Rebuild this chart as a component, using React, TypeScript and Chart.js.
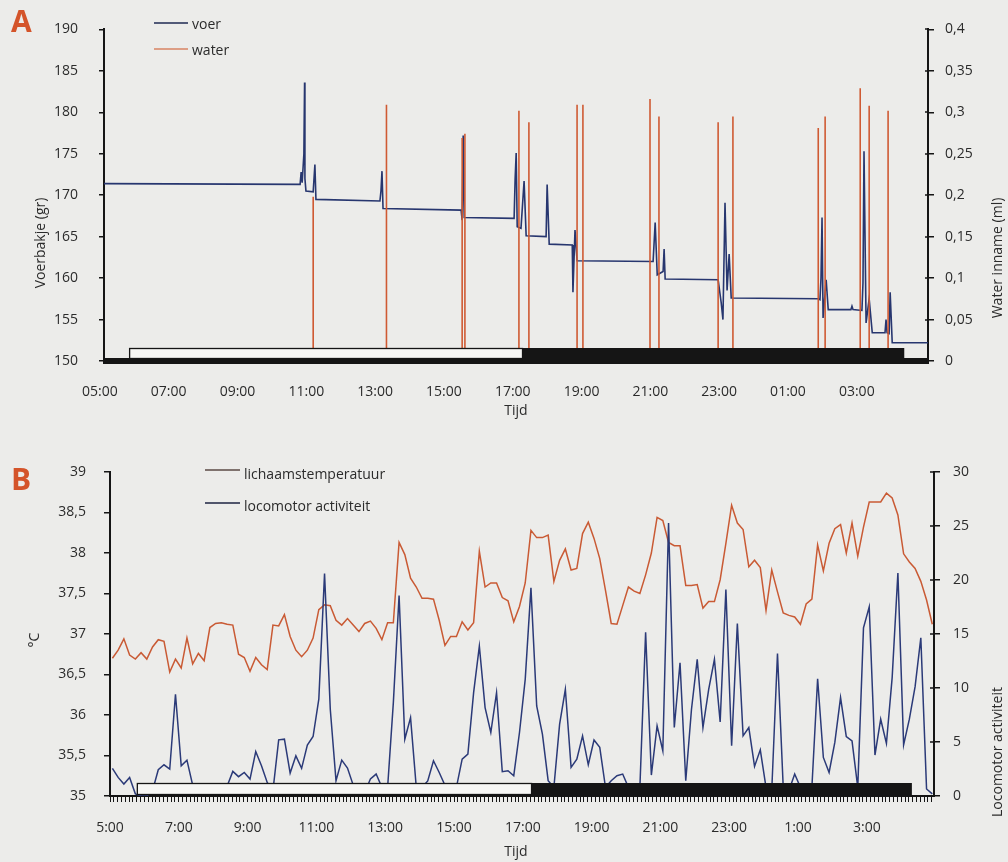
import React, { useEffect, useRef } from 'react';
import { Chart, registerables } from 'chart.js';

Chart.register(...registerables);

const FONT = '"Open Sans", "DejaVu Sans", sans-serif';
const TEXT = '#2b2b2b';
const AXIS = '#151515';
const BG = '#ececea';
const VOER = '#27366f';
const WATER = '#cf5a33';
const TEMP = '#c95a34';
const ACT = '#2b3a78';
const LETTER = '#d4542a';

// ---------------- Panel A data ----------------
const voerTimes = [5.12, 10.82, 10.85, 10.88, 10.93, 10.95, 10.96, 10.99, 11.2, 11.25,
  11.28, 13.14, 13.17, 13.2, 13.23, 15.5, 15.53, 15.56, 15.59, 17.04,
  17.07, 17.1, 17.13, 17.24, 17.33, 17.39, 17.97, 18.0, 18.06, 18.73,
  18.75, 18.81, 18.87, 21.08, 21.14, 21.2, 21.37, 21.4, 21.43, 22.97,
  23.06, 23.11, 23.17, 23.23, 23.29, 23.35, 25.88, 25.93, 25.96, 25.99,
  26.02, 26.11, 26.17, 26.83, 26.86, 26.89, 27.15, 27.18, 27.21, 27.27,
  27.36, 27.45, 27.82, 27.85, 27.88, 27.94, 27.97, 28.03, 29.07];
const voerValues = [171.4, 171.3, 172.8, 171.5, 175.0, 183.6, 172.0, 170.5, 170.4, 173.7,
  169.5, 169.3, 170.5, 172.9, 168.4, 168.2, 167.0, 177.2, 167.3, 167.2,
  172.0, 175.1, 166.2, 166.0, 171.7, 165.1, 165.0, 171.3, 164.1, 164.0,
  158.3, 165.8, 162.1, 162.0, 166.7, 160.4, 160.8, 163.5, 159.9, 159.8,
  157.0, 155.0, 169.1, 158.5, 162.9, 157.6, 157.5, 157.4, 160.0, 167.3,
  155.2, 159.8, 156.2, 156.2, 156.6, 156.2, 156.1, 159.4, 175.3, 154.6,
  157.5, 153.4, 153.4, 155.0, 153.4, 153.3, 158.3, 152.2, 152.2];
const waterTimes = [11.2, 13.33, 15.53, 15.61, 17.18, 17.47, 18.87, 19.04, 20.99, 21.25,
  22.97, 23.4, 25.88, 26.08, 27.1, 27.36, 27.91];
const waterPeaks = [0.198, 0.309, 0.269, 0.274, 0.302, 0.288, 0.309, 0.309, 0.316, 0.295,
  0.288, 0.295, 0.281, 0.295, 0.329, 0.308, 0.302];
const axisAHours = [5, 7, 9, 11, 13, 15, 17, 19, 21, 23, 25, 27];
const lightA = [5.85, 17.27];
const darkA = [17.27, 28.38];

// ---------------- Panel B data ----------------
const sampleStartHour = 5.07;
const sampleStepMinutes = 10;
const tempValues = [36.70, 36.80, 36.94, 36.74, 36.69, 36.77, 36.69, 36.84, 36.93, 36.91,
  36.53, 36.69, 36.58, 36.95, 36.63, 36.76, 36.67, 37.08, 37.13, 37.14,
  37.12, 37.11, 36.75, 36.71, 36.54, 36.71, 36.62, 36.56, 37.11, 37.10,
  37.24, 36.97, 36.80, 36.72, 36.80, 36.95, 37.30, 37.36, 37.35, 37.17,
  37.11, 37.19, 37.11, 37.03, 37.13, 37.16, 37.07, 36.93, 37.14, 37.14,
  38.13, 37.98, 37.69, 37.58,
  37.44, 37.44, 37.43, 37.17, 36.86, 36.97, 36.97, 37.15, 37.05, 37.14,
  38.02, 37.58, 37.63, 37.63, 37.45, 37.41, 37.15, 37.34, 37.63, 38.28,
  38.19, 38.19, 38.22, 37.65, 37.91, 38.05, 37.79, 37.81, 38.24, 38.38,
  38.18, 37.93, 37.54, 37.13, 37.12, 37.35, 37.58, 37.53, 37.50, 37.73,
  38.00, 38.44, 38.40, 38.13, 38.09, 38.09, 37.60, 37.60, 37.61, 37.32,
  37.40, 37.40, 37.67, 38.12, 38.59, 38.37, 38.29, 37.83, 37.91, 37.82,
  37.29, 37.79, 37.52, 37.26, 37.23, 37.21, 37.12, 37.37, 37.43, 38.10,
  37.78, 38.12, 38.30, 38.35, 38.00, 38.37, 37.96, 38.32, 38.63, 38.63,
  38.63, 38.74, 38.68, 38.47, 37.99, 37.89, 37.81, 37.65, 37.42, 37.12];
const activityValues = [2.56, 1.72, 1.11, 1.72, 0.2, 0, 0, 0.5, 2.43, 2.89,
  2.49, 9.42, 2.8, 3.32, 1.0, 0.4, 0.2, 0.5, 0.3, 0.6,
  0.9, 2.28, 1.79, 2.18, 1.57, 4.12, 2.8, 1.26, 0.5, 5.2,
  5.26, 2.12, 3.72, 2.56, 4.71, 5.51, 8.96, 20.59, 8.03, 1.41,
  3.32, 2.59, 1.0, 0.5, 0.3, 1.57, 2.03, 0.8, 0.8, 8.65,
  18.56, 5.26, 7.26, 0.8, 0.8, 1.4, 3.26, 2.18, 1.0, 1.0,
  0.8, 3.42, 3.88, 9.57, 13.88, 8.19, 5.88, 9.57, 2.25, 2.34,
  1.88, 5.88, 10.8, 19.27, 8.34, 5.73, 1.42, 0.8, 6.65, 9.88,
  2.65, 3.42, 5.57, 2.89, 5.18, 4.5, 0.8, 1.42, 1.88, 2.03,
  0.8, 0.5, 0.8, 15.17, 1.94, 6.5, 4.19, 25.27, 6.34, 12.34,
  1.42, 8.03, 12.65, 6.34, 9.88, 12.65, 6.86, 19.11, 4.65, 15.97,
  5.57, 6.34, 2.74, 4.28, 0.8, 0.5, 13.2, 0.8, 0.5, 2.03,
  0.8, 0.5, 0.8, 10.86, 3.57, 2.18, 4.96, 9.11, 5.51, 5.11,
  0.8, 15.57, 17.51, 3.79, 7.11, 4.87, 10.96, 20.65, 4.74, 7.11,
  10.12, 14.65, 0.65, 0.2];
const axisBMinorPerHour = 9;
const axisBLabelEvery = 18;
const lightB = [5.78, 17.24];
const darkB = [17.24, 28.31];

const hourLabel = (h: number, pad: boolean) => {
  const hh = ((Math.round(h) % 24) + 24) % 24;
  return (pad ? String(hh).padStart(2, '0') : String(hh)) + ':00';
};
const commaNum = (v: number) => String(Number(Number(v).toFixed(2))).replace('.', ',');

const decorPlugin = {
  id: 'decor',
  afterDatasetsDraw(chart: any, _a: any, opts: any) {
    const { ctx, chartArea: ca } = chart;
    const xs = chart.scales.x;
    const b = opts.bars;
    ctx.save();
    if (b) {
      const px = (v: number) => xs.getPixelForValue(v);
      if (b.baseBand) {
        ctx.fillStyle = AXIS;
        ctx.fillRect(ca.left - 1, ca.bottom - 3, ca.right - ca.left + 2, 6);
      }
      const l0 = px(b.light[0]), l1 = px(b.light[1]);
      const d0 = px(b.dark[0]), d1 = px(b.dark[1]);
      ctx.fillStyle = '#f6f6f4';
      ctx.fillRect(l0, ca.bottom - b.top, l1 - l0, b.top - b.lightBottom);
      ctx.strokeStyle = AXIS;
      ctx.lineWidth = 1.3;
      ctx.strokeRect(l0 + 0.5, ca.bottom - b.top + 0.5, l1 - l0, b.top - b.lightBottom);
      ctx.fillStyle = AXIS;
      ctx.fillRect(d0, ca.bottom - b.top, d1 - d0, b.top - b.darkBottom);
    }
    const y1 = chart.scales.y1;
    if (y1 && opts.innerTick) {
      ctx.strokeStyle = AXIS;
      ctx.lineWidth = 1.5;
      y1.ticks.forEach((t: any) => {
        const y = Math.round(y1.getPixelForValue(t.value));
        ctx.beginPath();
        ctx.moveTo(ca.right - opts.innerTick, y);
        ctx.lineTo(ca.right, y);
        ctx.stroke();
      });
    }
    ctx.restore();
  },
  afterDraw(chart: any, _a: any, opts: any) {
    const { ctx } = chart;
    ctx.save();
    if (opts.letter) {
      ctx.fillStyle = LETTER;
      ctx.font = `bold 30px ${FONT}`;
      ctx.textAlign = 'left';
      ctx.textBaseline = 'alphabetic';
      ctx.fillText(opts.letter.text, opts.letter.x, opts.letter.y);
    }
    (opts.legend || []).forEach((it: any) => {
      ctx.strokeStyle = it.color;
      ctx.lineWidth = 1.3;
      ctx.beginPath();
      ctx.moveTo(it.x0, it.y);
      ctx.lineTo(it.x1, it.y);
      ctx.stroke();
      ctx.fillStyle = TEXT;
      ctx.font = `14px ${FONT}`;
      ctx.textAlign = 'left';
      ctx.textBaseline = 'middle';
      ctx.fillText(chart.data.datasets[it.ds].label, it.x1 + 4, it.ty);
    });
    (opts.titles || []).forEach((t: any) => {
      ctx.save();
      ctx.translate(t.x, t.y);
      ctx.rotate((t.rot * Math.PI) / 180);
      ctx.textAlign = 'center';
      ctx.textBaseline = 'middle';
      ctx.fillStyle = TEXT;
      ctx.font = `14px ${FONT}`;
      ctx.fillText(t.text, 0, 0);
      ctx.restore();
    });
    ctx.restore();
  },
};

const tickFont = { family: FONT, size: 14 };

function configA(): any {
  const voerData = voerTimes.map((t, i) => ({ x: t, y: voerValues[i] }));
  const waterData: any[] = [];
  waterTimes.forEach((t, i) => {
    waterData.push({ x: t, y: 0 }, { x: t, y: waterPeaks[i] }, { x: t, y: 0 });
  });
  return {
    type: 'line',
    data: {
      datasets: [
        { label: 'water', data: waterData, yAxisID: 'y1', borderColor: WATER, borderWidth: 1.6, pointRadius: 0, tension: 0 },
        { label: 'voer', data: voerData, yAxisID: 'y', borderColor: VOER, borderWidth: 1.6, pointRadius: 0, tension: 0 },
      ],
    },
    options: {
      animation: false,
      responsive: false,
      events: [],
      layout: { padding: { top: 17, left: 0, right: 0, bottom: 0 } },
      plugins: {
        legend: { display: false },
        tooltip: { enabled: false },
        decor: {
          bars: { light: lightA, dark: darkA, top: 13, lightBottom: 3, darkBottom: 0, baseBand: true },
          innerTick: 3,
          letter: { text: 'A', x: 11, y: 32 },
          legend: [
            { ds: 1, color: '#1f2a52', x0: 154, x1: 188, y: 23, ty: 25 },
            { ds: 0, color: '#d98563', x0: 154, x1: 188, y: 49, ty: 51 },
          ],
          titles: [
            { text: 'Voerbakje (gr)', x: 41, y: 243, rot: -90 },
            { text: 'Water inname (ml)', x: 998, y: 258, rot: -90 },
            { text: 'Tijd', x: 516, y: 411, rot: 0 },
          ],
        },
      },
      scales: {
        x: {
          type: 'linear',
          min: 5.12,
          max: 29.07,
          grid: { display: false },
          border: { display: false },
          afterBuildTicks: (s: any) => { s.ticks = axisAHours.map((v) => ({ value: v })); },
          afterFit: (s: any) => { s.height = 69; },
          ticks: { autoSkip: false, maxRotation: 0, minRotation: 0, padding: 15, color: TEXT, font: tickFont, callback: (v: number) => hourLabel(v, true) },
        },
        y: {
          position: 'left',
          min: 150,
          max: 190,
          afterFit: (s: any) => { s.width = 104; },
          ticks: { stepSize: 5, padding: 21, color: TEXT, font: tickFont },
          grid: { drawOnChartArea: false, drawTicks: true, tickLength: 5, color: AXIS, lineWidth: 1.5 },
          border: { display: true, color: AXIS, width: 2 },
        },
        y1: {
          position: 'right',
          min: 0,
          max: 0.4,
          afterFit: (s: any) => { s.width = 80; },
          ticks: { stepSize: 0.05, padding: 11, color: TEXT, font: tickFont, callback: (v: number) => commaNum(v) },
          grid: { drawOnChartArea: false, drawTicks: true, tickLength: 6, color: AXIS, lineWidth: 1.5 },
          border: { display: true, color: AXIS, width: 2 },
        },
      },
    },
    plugins: [decorPlugin],
  };
}

function configB(): any {
  const times = tempValues.map((_, i) => sampleStartHour + (i * sampleStepMinutes) / 60);
  const tempData = tempValues.map((v, i) => ({ x: times[i], y: v }));
  const actData = activityValues.map((v, i) => ({ x: times[i], y: v }));
  const xMin = 5;
  const xMax = 28.953;
  return {
    type: 'line',
    data: {
      datasets: [
        { label: 'locomotor activiteit', data: actData, yAxisID: 'y1', borderColor: ACT, borderWidth: 1.5, pointRadius: 0, tension: 0 },
        { label: 'lichaamstemperatuur', data: tempData, yAxisID: 'y', borderColor: TEMP, borderWidth: 1.5, pointRadius: 0, tension: 0 },
      ],
    },
    options: {
      animation: false,
      responsive: false,
      events: [],
      layout: { padding: { top: 42, left: 0, right: 0, bottom: 0 } },
      plugins: {
        legend: { display: false },
        tooltip: { enabled: false },
        decor: {
          bars: { light: lightB, dark: darkB, top: 13, lightBottom: 2, darkBottom: 1, baseBand: false },
          innerTick: 4,
          letter: { text: 'B', x: 11, y: 60 },
          legend: [
            { ds: 1, color: '#5b4a45', x0: 205, x1: 240, y: 40, ty: 45 },
            { ds: 0, color: '#1c2340', x0: 205, x1: 240, y: 73, ty: 77 },
          ],
          titles: [
            { text: '°C', x: 35, y: 210, rot: -90 },
            { text: 'Locomotor activiteit', x: 998, y: 322, rot: -90 },
            { text: 'Tijd', x: 516, y: 422, rot: 0 },
          ],
        },
      },
      scales: {
        x: {
          type: 'linear',
          min: xMin,
          max: xMax,
          grid: { display: true, drawOnChartArea: false, drawTicks: true, tickLength: 6, color: AXIS, lineWidth: 1 },
          border: { display: true, color: AXIS, width: 2 },
          afterBuildTicks: (s: any) => {
            const arr: any[] = [];
            for (let k = 0; xMin + k / axisBMinorPerHour <= xMax + 1e-9; k++) arr.push({ value: xMin + k / axisBMinorPerHour });
            s.ticks = arr;
          },
          afterFit: (s: any) => { s.height = 66; },
          ticks: {
            autoSkip: false, maxRotation: 0, minRotation: 0, padding: 18, color: TEXT, font: tickFont,
            callback: (_v: number, idx: number) => (idx % axisBLabelEvery === 0 ? hourLabel(xMin + idx / axisBMinorPerHour, false) : ''),
          },
        },
        y: {
          position: 'left',
          min: 35,
          max: 39,
          afterFit: (s: any) => { s.width = 110; },
          ticks: { stepSize: 0.5, padding: 18, color: TEXT, font: tickFont, callback: (v: number) => commaNum(v) },
          grid: { drawOnChartArea: false, drawTicks: true, tickLength: 6, color: AXIS, lineWidth: 1.5 },
          border: { display: true, color: AXIS, width: 2 },
        },
        y1: {
          position: 'right',
          min: 0,
          max: 30,
          afterFit: (s: any) => { s.width = 74; },
          ticks: { stepSize: 5, padding: 13, color: TEXT, font: tickFont },
          grid: { drawOnChartArea: false, drawTicks: true, tickLength: 6, color: AXIS, lineWidth: 1.5 },
          border: { display: true, color: AXIS, width: 2 },
        },
      },
    },
    plugins: [decorPlugin],
  };
}

export default function App() {
  const refA = useRef<HTMLCanvasElement>(null);
  const refB = useRef<HTMLCanvasElement>(null);
  useEffect(() => {
    const chartA = new Chart(refA.current as HTMLCanvasElement, configA());
    const chartB = new Chart(refB.current as HTMLCanvasElement, configB());
    return () => {
      chartA.destroy();
      chartB.destroy();
    };
  }, []);
  return (
    <div style={{ position: 'absolute', left: 0, top: 0, width: 1008, height: 862, background: BG, overflow: 'hidden' }}>
      <canvas ref={refA} width={1008} height={430} style={{ position: 'absolute', left: 0, top: 0 }} />
      <canvas ref={refB} width={1008} height={432} style={{ position: 'absolute', left: 0, top: 430 }} />
    </div>
  );
}
